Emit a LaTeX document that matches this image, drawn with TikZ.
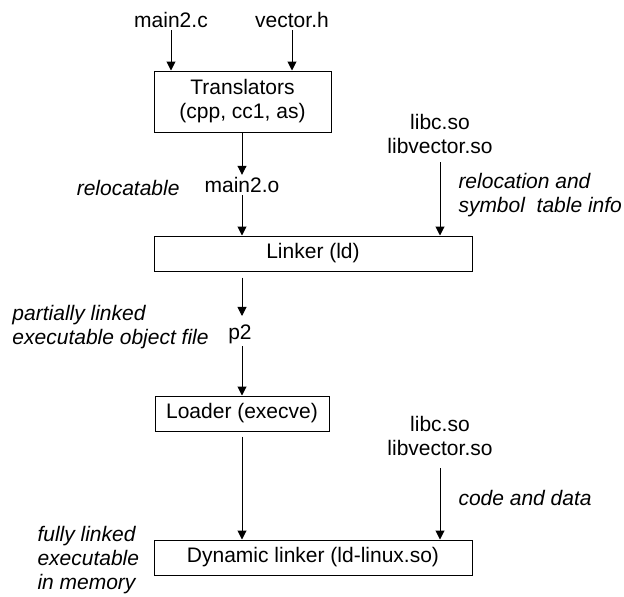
\documentclass[tikz,border=0pt]{standalone}
\usepackage{fontspec}
\setmainfont{Liberation Sans}
\usetikzlibrary{arrows.meta, positioning}

\begin{document}
\begin{tikzpicture}[x=1pt, y=-1pt, line width=1pt, font=\fontsize{21}{24}\selectfont,
    box/.style={draw, minimum height=35pt, inner sep=0pt, align=center},
    lbl/.style={inner sep=2pt, align=center},
    note/.style={inner sep=0pt, align=left, font=\fontsize{21}{24}\selectfont\itshape},
    flow/.style={-{Triangle[width=9pt, length=9pt]}}]
    \useasboundingbox (0,0) rectangle (624,597);

    % boxes
    \node[box, minimum width=177pt, minimum height=61pt] (trans) at (242.5,101.5) {Translators\\(cpp, cc1, as)};
    \node[box, minimum width=318pt] (linker) at (313,253.5) {Linker (ld)};
    \node[box, minimum width=174pt] (loader) at (242,413.5) {Loader (execve)};
    \node[box, minimum width=318pt] (dyn) at (313,557.5) {Dynamic linker (ld-linux.so)};

    % files
    \node[lbl] (main2c) at (171,20) {main2.c};
    \node[lbl] (vectorh) at (292,20) {vector.h};
    \node[lbl] (main2o) at (242,185) {main2.o};
    \node[lbl] (libsa) at (440,134) {libc.so\\libvector.so};
    \node[lbl] (p2) at (240,334) {p2};
    \node[lbl] (libsb) at (440,436) {libc.so\\libvector.so};

    % notes
    \node[note, anchor=east] (reloc) at (180,188) {relocatable};
    \node[note, anchor=west] (syminfo) at (458,195) {relocation and\\symbol\ \ table info};
    \node[note, anchor=west] (partial) at (12,327) {partially linked\\executable object file};
    \node[note, anchor=west] (codedata) at (458,498) {code and data};
    \node[note, anchor=west] (fully) at (37,560) {fully linked\\executable\\in memory};

    \draw[flow] (main2c) -- (main2c |- trans.north);
    \draw[flow] (vectorh) -- (vectorh |- trans.north);
    \draw[flow] (trans.south -| main2o) -- (main2o);
    \draw[flow] (main2o) -- (main2o |- linker.north);
    \draw[flow, shorten <=6pt] (libsa) -- (libsa |- linker.north);
    \draw[flow, shorten <=6pt, shorten >=6pt] (main2o |- linker.south) -- (main2o |- p2.north);
    \draw[flow] (main2o |- p2.south) -- (main2o |- loader.north);
    \draw[flow, shorten <=5pt] (loader) -- (loader |- dyn.north);
    \draw[flow, shorten <=10pt] (libsb) -- (libsb |- dyn.north);
\end{tikzpicture}
\end{document}
